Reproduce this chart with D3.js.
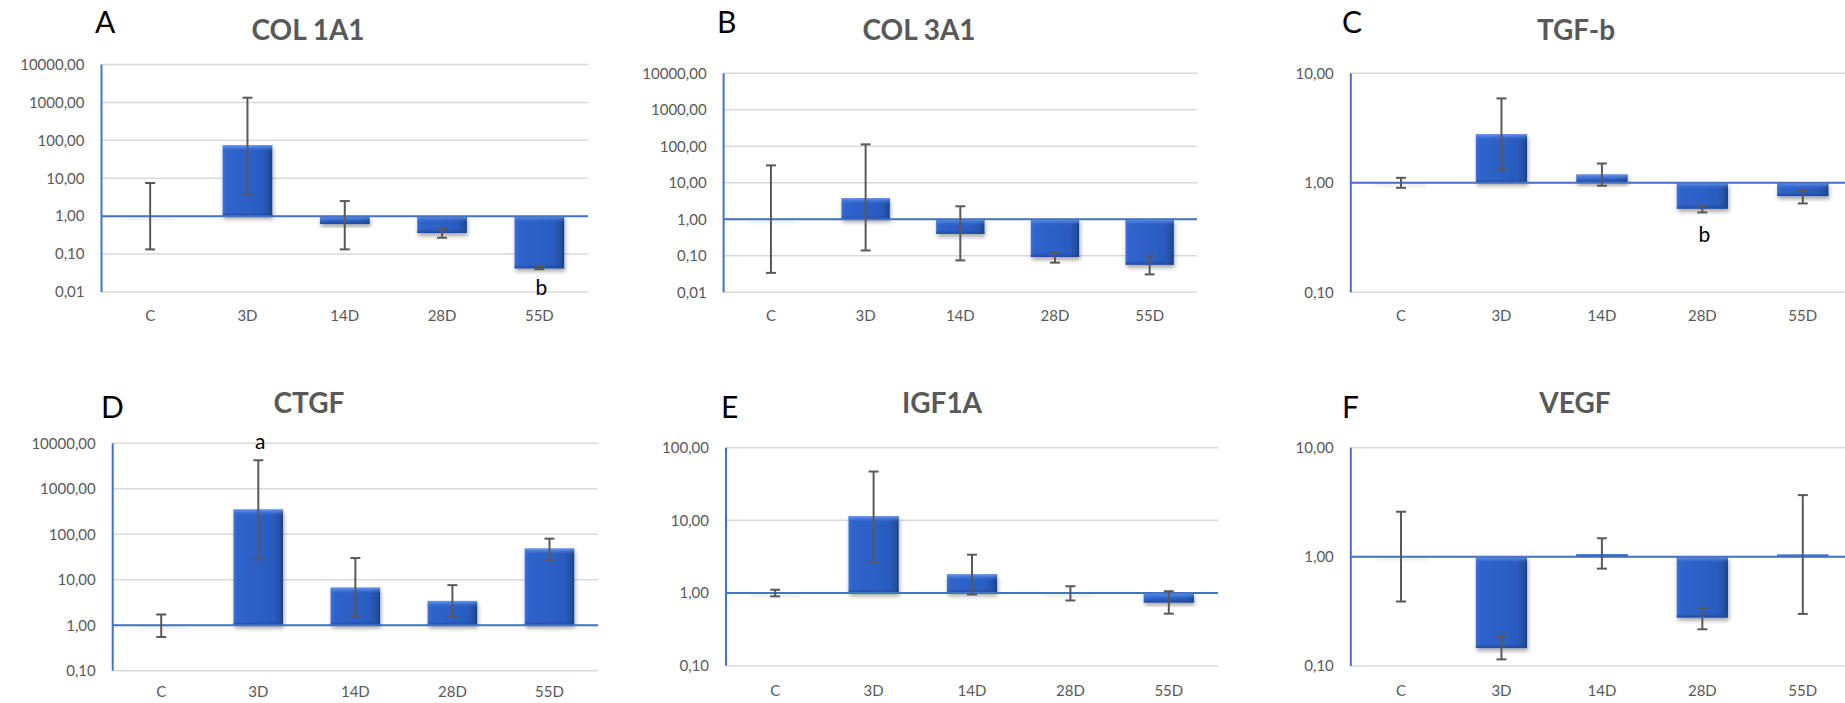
<!DOCTYPE html>
<html>
<head>
<meta charset="utf-8">
<script src="https://cdn.jsdelivr.net/npm/d3@7"></script>
<style>
  html, body { margin: 0; padding: 0; background: #fff; }
  svg { display: block; }
  text { font-family: Lato, "Open Sans", sans-serif; }
</style>
</head>
<body>
<svg id="chart" width="1845" height="703"></svg>
<script>
// ---------------- DATA ----------------
const categories = ["C", "3D", "14D", "28D", "55D"];

const col1a1Mean = [1, 73.9, 0.62, 0.36, 0.042];
const col1a1Low  = [0.133, 3.79, 0.133, 0.27, 0.040];
const col1a1High = [7.5, 1330, 2.5, 0.47, 0.048];

const col3a1Mean = [1, 3.8, 0.40, 0.093, 0.057];
const col3a1Low  = [0.034, 0.14, 0.075, 0.065, 0.031];
const col3a1High = [30, 113, 2.27, 0.122, 0.10];

const tgfbMean = [1, 2.78, 1.19, 0.58, 0.756];
const tgfbLow  = [0.90, 1.32, 0.94, 0.536, 0.648];
const tgfbHigh = [1.11, 5.9, 1.50, 0.616, 0.857];

const ctgfMean = [1, 350, 6.7, 3.42, 48.5];
const ctgfLow  = [0.55, 28, 1.52, 1.52, 27];
const ctgfHigh = [1.72, 4240, 30, 7.6, 80];

const igf1aMean = [1, 11.4, 1.81, 1, 0.74];
const igf1aLow  = [0.90, 2.67, 0.955, 0.79, 0.52];
const igf1aHigh = [1.11, 47, 3.37, 1.24, 1.06];

const vegfMean = [1, 0.146, 1.06, 0.278, 1.05];
const vegfLow  = [0.39, 0.115, 0.78, 0.217, 0.30];
const vegfHigh = [2.59, 0.188, 1.48, 0.34, 3.68];

const ticksA = [0.01, 0.1, 1, 10, 100, 1000, 10000];
const ticksB = [0.01, 0.1, 1, 10, 100, 1000, 10000];
const ticksC = [0.1, 1, 10];
const ticksD = [0.1, 1, 10, 100, 1000, 10000];
const ticksE = [0.1, 1, 10, 100];
const ticksF = [0.1, 1, 10];

const panelLetters = ["A", "B", "C", "D", "E", "F"];
const panelTitles  = ["COL 1A1", "COL 3A1", "TGF-b", "CTGF", "IGF1A", "VEGF"];

const annotationsA = [{cat: "55D", text: "b"}];
const annotationsC = [{cat: "28D", text: "b"}];
const annotationsD = [{cat: "3D", text: "a"}];

// ---------------- TABLE BUILT FROM DATA ----------------
const panels = [
  {mean: col1a1Mean, low: col1a1Low, high: col1a1High, ticks: ticksA, notes: annotationsA},
  {mean: col3a1Mean, low: col3a1Low, high: col3a1High, ticks: ticksB, notes: []},
  {mean: tgfbMean,   low: tgfbLow,   high: tgfbHigh,   ticks: ticksC, notes: annotationsC},
  {mean: ctgfMean,   low: ctgfLow,   high: ctgfHigh,   ticks: ticksD, notes: annotationsD},
  {mean: igf1aMean,  low: igf1aLow,  high: igf1aHigh,  ticks: ticksE, notes: []},
  {mean: vegfMean,   low: vegfLow,   high: vegfHigh,   ticks: ticksF, notes: []}
];

// ---------------- LAYOUT ----------------
const layout = [
  {x0: 101.5, x1: 588,  y0: 64.5,  y1: 292,   lx: 95,   ly: 33.3,  tx: 308,  ty: 40,    xly: 316, noteY: 295},
  {x0: 723.6, x1: 1197, y0: 73.3,  y1: 292.3, lx: 717,  ly: 33.3,  tx: 919,  ty: 40,    xly: 316},
  {x0: 1350.8,x1: 1853, y0: 73.3,  y1: 292.3, lx: 1342, ly: 33.3,  tx: 1576, ty: 40,    xly: 316, noteY: 241.7},
  {x0: 112.7, x1: 598,  y0: 443.3, y1: 670.7, lx: 101,  ly: 418.3, tx: 309,  ty: 413.3, xly: 692, noteY: 449.3},
  {x0: 726,   x1: 1218, y0: 447.7, y1: 665.7, lx: 721,  ly: 418.3, tx: 942,  ty: 413.3, xly: 691},
  {x0: 1350.8,x1: 1853, y0: 447.7, y1: 666,   lx: 1342, ly: 418.3, tx: 1575, ty: 413.3, xly: 691}
];

const svg = d3.select("#chart");
svg.append("rect").attr("width", 1845).attr("height", 703).attr("fill", "#fff");

const defs = svg.append("defs");
const g1 = defs.append("linearGradient").attr("id", "barH").attr("x1", "0").attr("x2", "1").attr("y1", "0").attr("y2", "0");
[[0, "#3a70d8"], [0.08, "#2f64cc"], [0.8, "#2b5cc0"], [0.94, "#23509f"], [1, "#1a3f85"]]
  .forEach(([o, c]) => g1.append("stop").attr("offset", o).attr("stop-color", c));
const g2 = defs.append("linearGradient").attr("id", "barTop").attr("x1", "0").attr("x2", "0").attr("y1", "0").attr("y2", "1");
[[0, "#6d9ff0", 0.95], [1, "#3a70d8", 0]]
  .forEach(([o, c, op]) => g2.append("stop").attr("offset", o).attr("stop-color", c).attr("stop-opacity", op));
const g3 = defs.append("linearGradient").attr("id", "barBot").attr("x1", "0").attr("x2", "0").attr("y1", "0").attr("y2", "1");
[[0, "#1f4a9a", 0], [1, "#1c4590", 0.8]]
  .forEach(([o, c, op]) => g3.append("stop").attr("offset", o).attr("stop-color", c).attr("stop-opacity", op));
const f = defs.append("filter").attr("id", "shadow").attr("x", "-20%").attr("y", "-20%").attr("width", "140%").attr("height", "160%");
f.append("feDropShadow").attr("dx", 1).attr("dy", 3).attr("stdDeviation", 2).attr("flood-color", "#000").attr("flood-opacity", 0.35);
const fb = defs.append("filter").attr("id", "blur").attr("x", "-20%").attr("y", "-200%").attr("width", "140%").attr("height", "500%");
fb.append("feGaussianBlur").attr("stdDeviation", 1.5);

const fmt = v => d3.format(".2f")(v).replace(".", ",");

panels.forEach((p, i) => {
  const L = layout[i];
  const g = svg.append("g");
  const x = d3.scaleBand().domain(categories).range([L.x0, L.x1]).padding(0);
  const y = d3.scaleLog().domain([p.ticks[0], p.ticks[p.ticks.length - 1]]).range([L.y1, L.y0]);
  const bw = x.bandwidth() * 0.51;
  const cx = c => x(c) + x.bandwidth() / 2;

  // gridlines
  g.append("g").selectAll("line").data(p.ticks).join("line")
    .attr("x1", L.x0).attr("x2", L.x1)
    .attr("y1", d => y(d)).attr("y2", d => y(d))
    .attr("stroke", "#d9d9d9").attr("stroke-width", 1.5);

  // y axis labels
  const ya = g.append("g").attr("transform", `translate(${L.x0},0)`)
    .call(d3.axisLeft(y).tickValues(p.ticks).tickFormat(fmt).tickSize(0).tickPadding(17));
  ya.select(".domain").remove();
  ya.selectAll("text").attr("fill", "#595959").style("font-size", "15px").style("font-family", "Lato, sans-serif");

  // x axis labels
  const xa = g.append("g").attr("transform", `translate(0,${L.xly})`)
    .call(d3.axisBottom(x).tickSize(0).tickPadding(0));
  xa.select(".domain").remove();
  xa.selectAll("text").attr("y", 0).attr("dy", "0.35em").attr("fill", "#595959")
    .style("font-size", "15px").style("font-family", "Lato, sans-serif");

  const rows = categories.map((c, k) => ({c, m: p.mean[k], lo: p.low[k], hi: p.high[k]}));
  const base = y(1);

  // faint shadows for zero-height bars
  g.append("g").selectAll("rect").data(rows.filter(r => Math.abs(y(r.m) - base) < 1)).join("rect")
    .attr("x", r => cx(r.c) - bw / 2).attr("width", bw)
    .attr("y", base + 1).attr("height", 3)
    .attr("fill", "#000").attr("opacity", 0.08).attr("filter", "url(#blur)");

  // bars
  const bars = g.append("g").selectAll("g").data(rows.filter(r => Math.abs(y(r.m) - base) >= 1)).join("g");
  bars.append("rect")
    .attr("x", r => cx(r.c) - bw / 2).attr("width", bw)
    .attr("y", r => Math.min(y(r.m), base)).attr("height", r => Math.abs(y(r.m) - base))
    .attr("fill", "url(#barH)").attr("filter", "url(#shadow)");
  bars.append("rect")
    .attr("x", r => cx(r.c) - bw / 2).attr("width", bw)
    .attr("y", r => Math.min(y(r.m), base)).attr("height", r => Math.min(6, Math.abs(y(r.m) - base)))
    .attr("fill", "url(#barTop)");
  bars.append("rect")
    .attr("x", r => cx(r.c) - bw / 2).attr("width", bw)
    .attr("y", r => Math.max(y(r.m), base) - Math.min(4, Math.abs(y(r.m) - base)))
    .attr("height", r => Math.min(4, Math.abs(y(r.m) - base)))
    .attr("fill", "url(#barBot)");

  // axes (blue)
  g.append("line").attr("x1", L.x0).attr("x2", L.x1).attr("y1", base).attr("y2", base)
    .attr("stroke", "#4472c4").attr("stroke-width", 2);
  g.append("line").attr("x1", L.x0).attr("x2", L.x0).attr("y1", L.y0).attr("y2", L.y1)
    .attr("stroke", "#4472c4").attr("stroke-width", 2);

  // error bars
  const eb = g.append("g").attr("stroke", "#595959").attr("stroke-width", 2);
  eb.selectAll("line.v").data(rows).join("line").attr("class", "v")
    .attr("x1", r => cx(r.c)).attr("x2", r => cx(r.c))
    .attr("y1", r => y(r.hi)).attr("y2", r => y(r.lo));
  eb.selectAll("line.t").data(rows).join("line").attr("class", "t")
    .attr("x1", r => cx(r.c) - 5).attr("x2", r => cx(r.c) + 5)
    .attr("y1", r => y(r.hi)).attr("y2", r => y(r.hi));
  eb.selectAll("line.b").data(rows).join("line").attr("class", "b")
    .attr("x1", r => cx(r.c) - 5).attr("x2", r => cx(r.c) + 5)
    .attr("y1", r => y(r.lo)).attr("y2", r => y(r.lo));

  // annotations
  g.append("g").selectAll("text").data(p.notes).join("text")
    .attr("x", d => cx(d.cat) + 2).attr("y", L.noteY)
    .attr("text-anchor", "middle").attr("fill", "#000")
    .style("font-size", "21px").text(d => d.text);

  // panel letter and title
  g.append("text").attr("x", L.lx).attr("y", L.ly).attr("fill", "#000")
    .style("font-size", "30px").text(panelLetters[i]);
  g.append("text").attr("x", L.tx).attr("y", L.ty).attr("text-anchor", "middle")
    .attr("fill", "#595959").style("font-size", "28px").style("font-weight", "bold")
    .text(panelTitles[i]);
});
</script>
</body>
</html>
